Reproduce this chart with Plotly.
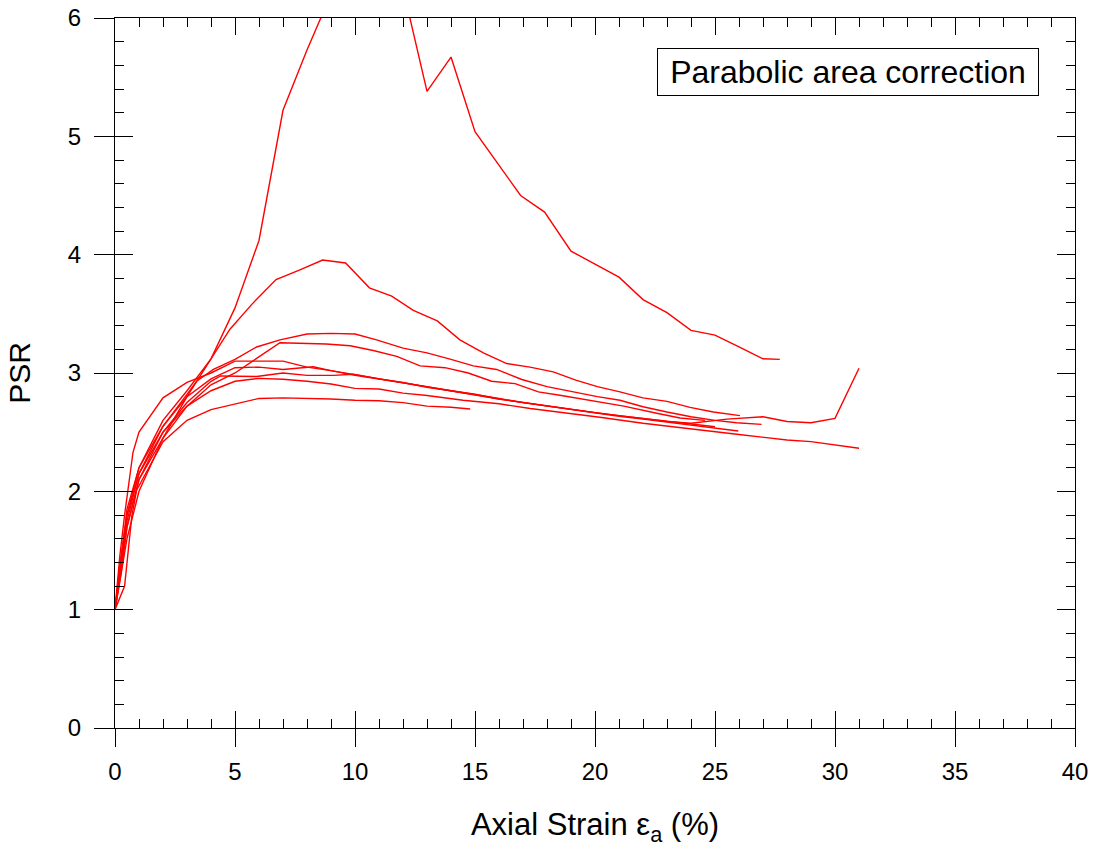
import plotly.graph_objects as go

# ---- data: axial strain (%) and PSR for each test curve ----
a_x = [0, 0.25, 0.5, 1, 2, 3, 4, 5, 6, 7, 8, 9, 10, 11, 12, 13, 14, 15, 15.9, 16.9, 17.9, 19, 20, 21, 22, 23, 24, 25, 26, 27, 27.7]
a_y = [1, 1.3, 1.6, 2.0, 2.45, 2.8, 3.12, 3.55, 4.12, 5.22, 5.73, 6.2, 6.6, 6.8, 6.25, 5.38, 5.67, 5.04, 4.78, 4.50, 4.36, 4.03, 3.92, 3.81, 3.62, 3.51, 3.36, 3.32, 3.22, 3.12, 3.115]

b_x = [0, 0.25, 0.5, 1, 2, 3, 4, 4.79, 5.7, 6.71, 7.68, 8.65, 9.61, 10.6, 11.53, 12.43, 13.43, 14.37, 15.35, 16.32, 17.29, 18.26, 19.2, 20.1, 21.04, 22, 23, 23.96, 24.93, 26.04]
b_y = [1, 1.45, 1.8, 2.2, 2.6, 2.85, 3.12, 3.37, 3.58, 3.79, 3.87, 3.955, 3.93, 3.72, 3.65, 3.53, 3.44, 3.28, 3.17, 3.08, 3.05, 3.01, 2.94, 2.885, 2.84, 2.79, 2.76, 2.71, 2.67, 2.64]

c_x = [0, 0.25, 0.5, 1, 2, 3, 3.4, 4.1, 5, 5.9, 6.875, 8, 9, 10, 10.9, 12, 13, 14, 14.93, 15.9, 16.95, 18, 19.1, 20.1, 21.04, 22, 23, 24, 25, 25.9, 26.94]
c_y = [1, 1.4, 1.8, 2.15, 2.55, 2.82, 2.93, 3.03, 3.115, 3.22, 3.28, 3.33, 3.335, 3.33, 3.28, 3.21, 3.17, 3.115, 3.06, 3.03, 2.945, 2.885, 2.84, 2.80, 2.77, 2.715, 2.67, 2.63, 2.60, 2.58, 2.566]

d_x = [0, 0.25, 0.5, 1, 2, 3, 4, 5, 5.83, 6.875, 8.8, 9.8, 10.76, 11.74, 12.71, 13.75, 14.72, 15.69, 16.67, 17.64, 18.6, 20.0, 21.2, 22.57, 23.54, 24.58]
d_y = [1, 1.35, 1.7, 2.1, 2.45, 2.72, 2.9, 3.0, 3.11, 3.256, 3.245, 3.23, 3.19, 3.14, 3.06, 3.045, 3.0, 2.93, 2.91, 2.84, 2.81, 2.76, 2.72, 2.66, 2.62, 2.60]

e_x = [0, 0.2, 0.4, 0.75, 1, 2, 3, 4, 5, 6, 7, 8, 9, 10, 11, 12, 13, 14, 15, 16, 17, 18, 19, 20, 21, 22, 23, 24, 25]
e_y = [1, 1.45, 1.8, 2.33, 2.5, 2.79, 2.92, 3.0, 3.1, 3.1, 3.1, 3.05, 3.02, 2.98, 2.95, 2.92, 2.885, 2.85, 2.82, 2.78, 2.75, 2.72, 2.69, 2.665, 2.64, 2.615, 2.59, 2.57, 2.546]

g_x = [0, 0.25, 0.5, 1, 2, 3, 4, 5, 6, 7, 8.26, 9, 10, 11, 12, 13, 14, 15, 16, 17, 18, 19, 20, 21, 22, 23, 24, 25.5, 27, 28, 29, 30, 31]
g_y = [1, 1.4, 1.85, 2.2, 2.55, 2.8, 2.95, 3.045, 3.05, 3.03, 3.053, 3.02, 2.985, 2.95, 2.915, 2.88, 2.845, 2.815, 2.78, 2.75, 2.72, 2.69, 2.665, 2.64, 2.615, 2.59, 2.575, 2.61, 2.63, 2.59, 2.58, 2.617, 3.04]

i_x = [0, 0.25, 0.5, 1, 2, 3, 4, 4.4, 5.9, 7, 8, 9.1, 9.93, 11, 12, 13, 14, 15, 16, 17, 18, 19, 20, 21, 22, 23, 24, 25, 25.97]
i_y = [1, 1.35, 1.75, 2.15, 2.5, 2.75, 2.93, 2.975, 2.97, 3.0, 2.98, 2.98, 2.99, 2.95, 2.92, 2.88, 2.85, 2.82, 2.785, 2.75, 2.72, 2.69, 2.66, 2.635, 2.61, 2.585, 2.56, 2.535, 2.51]

h_x = [0, 0.25, 0.5, 1, 2, 3, 4, 5, 6, 7, 8, 9, 10, 11, 12, 13, 14.5, 16, 17.3, 18.7, 20.2, 22, 24, 26, 28, 29, 31]
h_y = [1, 1.3, 1.7, 2.1, 2.5, 2.72, 2.85, 2.93, 2.955, 2.947, 2.93, 2.907, 2.87, 2.865, 2.83, 2.81, 2.77, 2.74, 2.70, 2.665, 2.626, 2.575, 2.525, 2.48, 2.434, 2.42, 2.364]

f_x = [0, 0.2, 0.4, 0.7, 0.9, 2, 3, 4, 5, 6, 7, 8.4, 9, 10, 11, 12, 13, 14, 14.8]
f_y = [1, 1.1, 1.2, 1.79, 2.01, 2.42, 2.6, 2.69, 2.74, 2.785, 2.79, 2.786, 2.78, 2.77, 2.766, 2.75, 2.72, 2.71, 2.696]

curves = [(a_x, a_y), (b_x, b_y), (c_x, c_y), (d_x, d_y), (e_x, e_y),
          (g_x, g_y), (i_x, i_y), (h_x, h_y), (f_x, f_y)]

x_ticks = [0, 5, 10, 15, 20, 25, 30, 35, 40]
y_ticks = [0, 1, 2, 3, 4, 5, 6]
label_text = "Parabolic area correction"

FONT = "Liberation Sans, Arial, sans-serif"

fig = go.Figure()
for k, (xs, ys) in enumerate(curves):
    # the last curve is drawn on the overlaid axis pair so that its inside ticks render
    on_overlay = (k == len(curves) - 1)
    fig.add_trace(go.Scatter(x=xs, y=ys, mode="lines",
                             line=dict(color="#ff0000", width=1.4),
                             xaxis="x2" if on_overlay else "x",
                             yaxis="y2" if on_overlay else "y",
                             showlegend=False, hoverinfo="skip"))

axis_common = dict(showgrid=False, zeroline=False, linecolor="black", linewidth=1.4,
                   tickcolor="black", tickwidth=1.4)

fig.update_layout(
    width=1093, height=850,
    paper_bgcolor="white", plot_bgcolor="white",
    margin=dict(l=115, r=18, t=18, b=122, autoexpand=False),
    font=dict(family=FONT, color="black"),
    # main axes: outside major ticks + labels + titles
    xaxis=dict(range=[0, 40], tickvals=x_ticks, ticks="outside", ticklen=18,
               showline=True, mirror=False, ticklabelstandoff=4,
               showticklabels=True, tickfont=dict(size=24, family=FONT),
               title=dict(text="Axial Strain ε<sub>a</sub> (%)", font=dict(size=31, family=FONT), standoff=29),
               **axis_common),
    yaxis=dict(range=[0, 6], tickvals=y_ticks, ticks="outside", ticklen=20,
               showline=True, mirror=False, ticklabelstandoff=8,
               showticklabels=True, tickfont=dict(size=24, family=FONT),
               title=dict(text="PSR", font=dict(size=30, family=FONT), standoff=28),
               **axis_common),
    # overlaid axes: inside major + minor ticks, mirrored to top/right
    xaxis2=dict(overlaying="x", matches="x", anchor="y2", side="bottom",
                range=[0, 40], tickvals=x_ticks, ticks="inside", ticklen=17,
                showline=True, mirror="ticks", showticklabels=False,
                minor=dict(ticks="inside", dtick=1, ticklen=9, tickcolor="black", tickwidth=1.4),
                **axis_common),
    yaxis2=dict(overlaying="y", matches="y", anchor="x2", side="left",
                range=[0, 6], tickvals=y_ticks, ticks="inside", ticklen=18,
                showline=True, mirror="ticks", showticklabels=False,
                minor=dict(ticks="inside", dtick=0.2, ticklen=9, tickcolor="black", tickwidth=1.4),
                **axis_common),
)

fig.add_annotation(x=30.56, y=5.544, xref="x", yref="y", text=label_text,
                   showarrow=False, font=dict(size=32, family=FONT, color="black"),
                   bordercolor="black", borderwidth=1, borderpad=2, bgcolor="white",
                   width=376, height=42, align="center",
                   xanchor="center", yanchor="middle")

fig.write_html("out.html", config={"displayModeBar": False},
               post_script="document.body.style.margin='0px';document.body.style.overflow='hidden';")
